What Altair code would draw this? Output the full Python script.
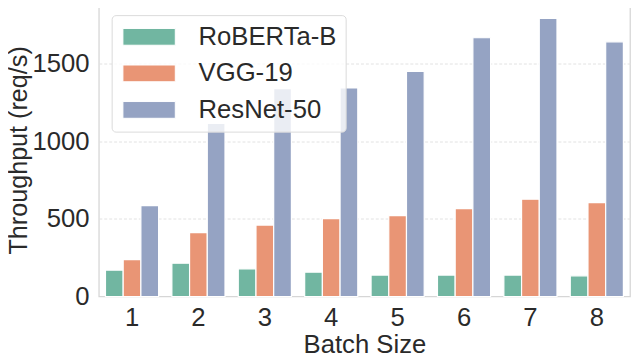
import altair as alt
import pandas as pd

batch_sizes = [1, 2, 3, 4, 5, 6, 7, 8]
models = ["RoBERTa-B", "VGG-19", "ResNet-50"]
roberta = [170, 214, 178, 157, 138, 138, 138, 133]
vgg = [237, 411, 460, 502, 521, 566, 627, 604]
resnet = [585, 1114, 1339, 1343, 1449, 1666, 1790, 1640]
colors = ["#71b6a1", "#e99575", "#95a3c3"]

rows = []
for name, vals in zip(models, [roberta, vgg, resnet]):
    for b, v in zip(batch_sizes, vals):
        rows.append({"batch": b, "model": name, "value": v})
df = pd.DataFrame(rows)

FONT = "Liberation Sans"
TXT = "#2a2a2a"

chart = alt.Chart(df).mark_bar(stroke="white", strokeWidth=1.2).encode(
    x=alt.X("batch:O", title="Batch Size",
            scale=alt.Scale(paddingInner=0.2, paddingOuter=0.1),
            axis=alt.Axis(labelAngle=0, labelFontSize=26, labelFont=FONT,
                          labelColor=TXT, labelPadding=8, ticks=False,
                          tickSize=0, domain=False, grid=False,
                          titleFontSize=26, titleFont=FONT, titleColor=TXT,
                          titleFontWeight="normal", titlePadding=2)),
    xOffset=alt.XOffset("model:N", sort=models),
    y=alt.Y("value:Q", title="Throughput (req/s)",
            scale=alt.Scale(domain=[0, 1888], nice=False),
            axis=alt.Axis(values=[0, 500, 1000, 1500], format="d",
                          labelFontSize=26,
                          labelFont=FONT, labelColor=TXT, labelPadding=10,
                          ticks=False, tickSize=0, domain=False, grid=True,
                          gridColor="#e2e2e2", gridDash=[3, 2], gridWidth=1,
                          gridOpacity={"condition": {"test": "datum.value === 0", "value": 0}, "value": 1},
                          titleFontSize=25.5, titleFont=FONT, titleColor=TXT,
                          titleFontWeight="normal", titlePadding=0,
                          titleBaseline="bottom")),
    color=alt.Color("model:N", sort=models,
                    scale=alt.Scale(domain=models, range=colors),
                    legend=alt.Legend(orient="none", legendX=13, legendY=12,
                                      title=None,
                                      symbolType="M-1,-0.8L4,-0.8L4,0.8L-1,0.8Z",
                                      symbolSize=450, symbolStrokeColor="white",
                                      symbolStrokeWidth=1, symbolOpacity=1,
                                      labelFontSize=26, labelFont=FONT,
                                      labelColor=TXT, labelOffset=53,
                                      rowPadding=11, padding=9,
                                      fillColor="rgba(255,255,255,0.8)",
                                      strokeColor="#dadada", cornerRadius=4)),
).properties(
    width=538,
    height=297,
    autosize=alt.AutoSizeParams(type="none"),
    padding={"left": 92, "top": -7, "right": 2, "bottom": 56},
).configure_view(
    stroke="#d6d6d6", strokeWidth=1.3
)

chart.save("out.html", embed_options={"renderer": "svg", "actions": False})
